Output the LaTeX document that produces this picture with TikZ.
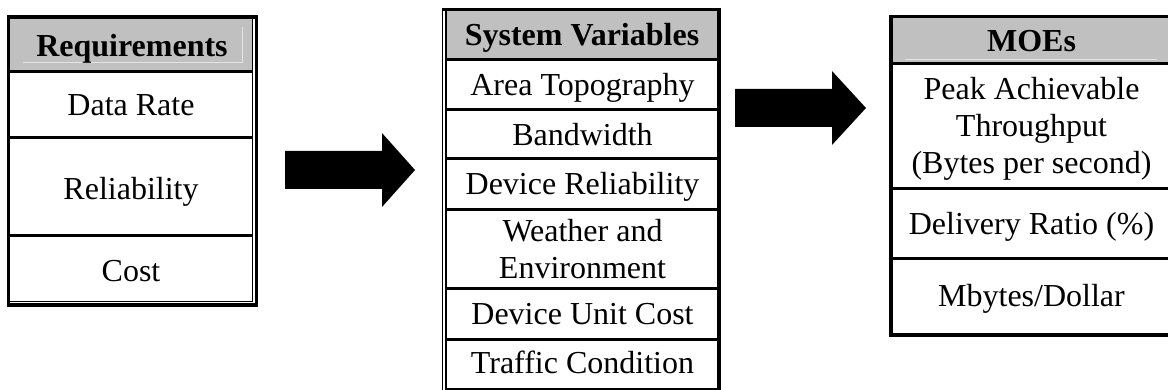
\documentclass[tikz,border=0pt]{standalone}
\usepackage{fontspec}
\setmainfont{Liberation Serif}
\definecolor{hdrgray}{HTML}{C0C0C0}
\definecolor{faint}{HTML}{E4E4E4}
\begin{document}
\begin{tikzpicture}[x=1pt,y=-1pt,
  txt/.style={anchor=base,inner sep=0pt,font=\fontsize{32}{36}\selectfont},
  hdrtxt/.style={txt,font=\fontsize{32}{36}\selectfont\bfseries},
  hdrfill/.style={fill=hdrgray},
  rowline/.style={line width=3pt},
  frame/.style={line width=3pt},
  thinframe/.style={line width=1.3pt},
  hint/.style={draw=faint,line width=0.8pt},
  blockarrow/.style={fill=black}]
\useasboundingbox (0,0) rectangle (1168,390);

% ---------- Requirements ----------
\fill[hdrfill] (9,17) rectangle (253,71.5);
\draw[hint] (23,62) -- (242,62) -- (242,27);
\draw[rowline] (8.5,71.5) -- (253,71.5);
\draw[rowline] (8.5,137.5) -- (253,137.5);
\draw[rowline] (8.5,236) -- (253,236);
\draw[thinframe] (252.5,17) -- (252.5,301.5) -- (8.5,301.5);
\draw[frame,line width=3.2pt] (8.5,305) -- (8.5,17) -- (256.5,17) -- (256.5,305) -- cycle;
\node[hdrtxt] (req) at (132,56.5) {Requirements};
\node[txt] (datarate) at (131,116) {Data Rate};
\node[txt] (reliab) at (131,200) {Reliability};
\node[txt] (cost) at (131,281.5) {Cost};

% ---------- arrow 1 ----------
\coordinate (a1) at (285,170);
\fill[blockarrow] (a1) ++(0,-19) -- ++(97,0) -- ++(0,-18) -- ++(33,37)
  -- ++(-33,37) -- ++(0,-18) -- ++(-97,0) -- cycle;

% ---------- System Variables ----------
\fill[hdrfill] (446,9.5) rectangle (719,60);
\draw[rowline] (446,60) -- (719,60);
\draw[rowline] (446,110) -- (719,110);
\draw[rowline] (446,159) -- (719,159);
\draw[rowline] (446,210) -- (719,210);
\draw[rowline] (446,288.5) -- (719,288.5);
\draw[rowline] (446,339.5) -- (719,339.5);
\draw[rowline] (446,389.5) -- (719,389.5);
\draw[thinframe] (442.8,8) -- (442.8,392);
\draw[line width=2.6pt] (446,8) -- (446,392);
\draw[line width=4pt] (719,8) -- (719,392);
\draw[frame] (442,9.5) -- (721,9.5);
\node[hdrtxt] (sysvar) at (582,46) {System Variables};
\node[txt] (topo) at (582.5,95.7) {Area Topography};
\node[txt] (bandw) at (582.5,145.7) {Bandwidth};
\node[txt] (devrel) at (582.5,195) {Device Reliability};
\node[txt] (weather) at (582.5,241.7) {Weather and};
\node[txt] (environ) at (582.5,278.3) {Environment};
\node[txt] (unitcost) at (582.5,324.3) {Device Unit Cost};
\node[txt] (traffic) at (582.5,373.3) {Traffic Condition};

% ---------- arrow 2 ----------
\coordinate (a2) at (735,108);
\fill[blockarrow] (a2) ++(0,-19) -- ++(97,0) -- ++(0,-18) -- ++(34,37)
  -- ++(-34,37) -- ++(0,-18) -- ++(-97,0) -- cycle;

% ---------- MOEs ----------
\fill[hdrfill] (891,16.5) rectangle (1172,63.5);
\draw[hint] (905,59.3) -- (1157,59.3);
\draw[rowline] (891,63.5) -- (1172,63.5);
\draw[rowline] (891,189) -- (1172,189);
\draw[rowline] (891,259) -- (1172,259);
\draw[line width=3.5pt] (891,15) -- (891,335) -- (1172,335);
\draw[frame] (889,16.5) -- (1172,16.5);
\node[hdrtxt] (moes) at (1031.5,51.5) {MOEs};
\node[txt] (peak) at (1031.5,100) {Peak Achievable};
\node[txt] (thru) at (1031.5,136.7) {Throughput};
\node[txt] (bps) at (1031.5,173.3) {(Bytes per second)};
\node[txt] (delivery) at (1031.5,235) {Delivery Ratio (\%)};
\node[txt] (mbd) at (1031.5,306.7) {Mbytes/Dollar};
\end{tikzpicture}
\end{document}
